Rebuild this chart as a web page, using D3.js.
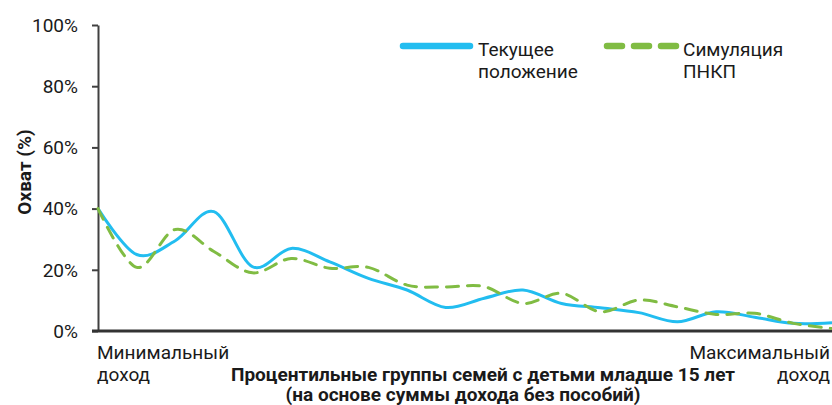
<!DOCTYPE html>
<html><head><meta charset="utf-8">
<script src="https://cdn.jsdelivr.net/npm/d3@7"></script>
<style>body{margin:0;background:#fff}svg{display:block}text{font-family:Roboto,sans-serif;fill:#1a1a1a}</style>
</head><body><svg id="c" width="832" height="405"></svg>
<script>
const groups = d3.range(1, 21);
const current = [40, 25, 29.5, 39, 21, 27, 22.6, 17.2, 13.4, 7.7, 10.7, 13.4, 9, 7.6, 6, 3, 6.3, 4.5, 2.5, 2.7];
const simulation = [40, 20.8, 33.2, 26, 19, 23.7, 20.5, 20.8, 15, 14.4, 14.5, 9, 12.3, 6.3, 10.1, 7.9, 5.4, 5.8, 2.5, 0.8];
const yTicks = [0, 20, 40, 60, 80, 100];
const seriesNames = ["Текущее положение", "Симуляция ПНКП"];

const svg = d3.select("#c");
const x = d3.scaleLinear().domain([1, 20]).range([98, 832]);
const y = d3.scaleLinear().domain([0, 100]).range([331, 25]);
const SX = 1.07, FS = 17.8;

function label(px, py, txt, anchor, bold) {
  const g = svg.append("g").attr("transform", `translate(${px},${py}) scale(${SX},1)`);
  g.append("text").attr("text-anchor", anchor || "start").style("font-size", FS + "px")
    .style("font-weight", bold ? "bold" : "normal").text(txt);
  return g;
}

// y axis
const yAxis = d3.axisLeft(y).tickValues(yTicks).tickFormat(d => d + "%").tickSize(6).tickSizeOuter(0);
const gy = svg.append("g").attr("transform", "translate(98,0)").call(yAxis);
gy.select(".domain").attr("stroke", "#404040").attr("stroke-width", 2);
gy.selectAll(".tick line").attr("stroke", "#404040").attr("stroke-width", 2);
gy.selectAll(".tick text").attr("x", 0).attr("dy", "0.35em")
  .attr("transform", `translate(-20,0) scale(${SX},1)`)
  .style("font-size", FS + "px").style("font-family", "Roboto").attr("fill", "#1a1a1a");

// x axis
svg.append("line").attr("x1", 92).attr("x2", 832).attr("y1", y(0)).attr("y2", y(0)).attr("stroke", "#333").attr("stroke-width", 3);

const line = d3.line().x((d, i) => x(groups[i])).y(d => y(d)).curve(d3.curveCardinal.tension(0));
svg.append("path").datum(current).attr("d", line).attr("fill", "none").attr("stroke", "#22bdf0").attr("stroke-width", 3);
svg.append("path").datum(simulation).attr("d", line).attr("fill", "none").attr("stroke", "#80bc43").attr("stroke-width", 3)
  .attr("stroke-dasharray", "12,9").attr("stroke-linecap", "round");

// y title
svg.append("text").attr("transform", "translate(31,172) rotate(-90)").attr("text-anchor", "middle")
  .style("font-size", "19px").style("font-weight", "bold").text("Охват (%)");

// x end labels
label(97, 359, "Минимальный");
label(97, 381, "доход");
label(830, 359, "Максимальный", "end");
label(830, 381, "доход", "end");

// x title
label(483, 381, "Процентильные группы семей с детьми младше 15 лет", "middle", true);
label(463, 401, "(на основе суммы дохода без пособий)", "middle", true);

// legend
svg.append("line").attr("x1", 403).attr("x2", 470).attr("y1", 46).attr("y2", 46).attr("stroke", "#22bdf0").attr("stroke-width", 6.5).attr("stroke-linecap", "round");
label(478, 56, "Текущее");
label(478, 78, "положение");
svg.append("line").attr("x1", 607).attr("x2", 676).attr("y1", 46).attr("y2", 46).attr("stroke", "#80bc43").attr("stroke-width", 6.5).attr("stroke-linecap", "round").attr("stroke-dasharray", "15,12");
label(683, 56, "Симуляция");
label(683, 78, "ПНКП");
</script></body></html>
